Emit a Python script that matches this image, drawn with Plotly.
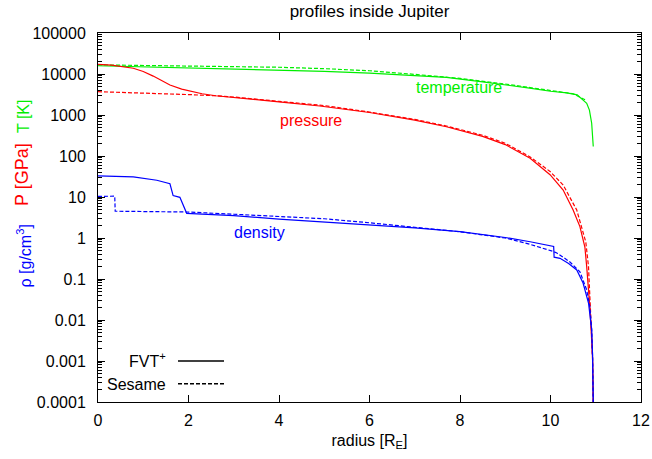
import plotly.graph_objects as go

# ---------------- data ----------------
r_T_fvt = [0, 1, 2, 3, 4, 5, 6, 7, 7.7, 8.5, 9, 9.5, 10, 10.36, 10.59, 10.69, 10.8, 10.86, 10.91, 10.945]
T_fvt = [15900, 15000, 14200, 13300, 12400, 11600, 10500, 9300, 8300, 6400, 5500, 4600, 3800, 3450, 3100, 2500, 1930, 1320, 630, 170]

r_T_ses = [0, 1, 2, 3, 4, 5, 6, 7, 8, 9, 10, 10.5, 10.78]
T_ses = [16700, 16300, 15800, 15200, 14600, 13500, 12000, 9800, 7800, 5700, 3900, 3300, 2300]

r_P_fvt = [0, 0.3, 0.78, 1.0, 1.22, 1.4, 1.59, 1.85, 2.0, 2.3, 2.6, 3, 4, 4.9, 6, 7, 7.7, 8.5, 9, 9.55, 9.99,
           10.28, 10.5, 10.65, 10.76, 10.8, 10.84, 10.87, 10.9, 10.93, 10.945]
P_fvt = [17200, 16500, 13800, 11500, 8900, 7000, 5400, 4270, 3900, 3300, 2950, 2700, 2100, 1660, 1150, 750, 517, 300, 190, 88, 35,
         14.8, 4.8, 1.9, 0.6, 0.2, 0.06, 0.02, 0.005, 0.0012, 0.0001]

r_P_ses = [0, 1, 2, 2.6, 3, 4, 5, 6, 7, 7.7, 8.5, 9, 9.55, 9.99, 10.28, 10.58, 10.78, 10.84, 10.88, 10.91, 10.93, 10.945]
P_ses = [3700, 3450, 3150, 2950, 2750, 2150, 1700, 1180, 780, 540, 320, 205, 95, 42, 19.6, 4.8, 0.8, 0.2, 0.03, 0.004, 0.001, 0.0001]

r_rho_fvt = [0, 0.5, 0.78, 1.3, 1.59, 1.66, 1.81, 1.96, 3, 4, 4.9, 6, 7, 8, 9, 9.55, 10.07, 10.08, 10.21, 10.4,
             10.58, 10.72, 10.84, 10.91, 10.93, 10.945]
rho_fvt = [32.6, 31.8, 31.0, 25.6, 21, 10.8, 9.8, 4.0, 3.5, 2.9, 2.5, 2.1, 1.76, 1.43, 1.03, 0.81, 0.62, 0.34, 0.32, 0.24,
           0.166, 0.08, 0.026, 0.0058, 0.0013, 0.0001]

r_rho_ses = [0, 0.2, 0.37, 0.38, 1, 2, 3, 4, 5, 6, 7, 7.7, 8, 9, 9.55, 10.06, 10.14, 10.28, 10.43, 10.65, 10.8,
             10.87, 10.91, 10.93, 10.945]
rho_ses = [10.3, 10.5, 10.5, 4.5, 4.45, 4.3, 3.8, 3.35, 2.95, 2.35, 1.85, 1.55, 1.42, 1.0, 0.7, 0.47, 0.43, 0.34, 0.26,
           0.15, 0.054, 0.021, 0.006, 0.0013, 0.0001]

y_tickvals = [1e-4, 1e-3, 1e-2, 1e-1, 1, 10, 100, 1000, 10000, 100000]
y_ticktext = ["0.0001", "0.001", "0.01", "0.1", "1", "10", "100", "1000", "10000", "100000"]
x_tickvals = [0, 2, 4, 6, 8, 10, 12]

# ---------------- style ----------------
GREEN = "#00ee00"
RED = "#ff0000"
BLUE = "#0000ff"
FONT = "Liberation Sans, Arial, sans-serif"
FS = 16

W, H = 652, 459
ML, MR, MT, MB = 98, 11, 33, 57
PW, PH = W - ML - MR, H - MT - MB


# helpers converting pixel positions to paper fractions
def px(xp):
    return (xp - ML) / PW


def py(yp):
    return (H - MB - yp) / PH


fig = go.Figure()


def add(r, v, color, dash):
    fig.add_trace(go.Scatter(x=r, y=v, mode="lines",
                             line=dict(color=color, width=1.2, dash=dash),
                             showlegend=False, hoverinfo="skip"))


DASH = "4px,2px"
add(r_T_ses, T_ses, GREEN, DASH)
add(r_T_fvt, T_fvt, GREEN, "solid")
add(r_P_ses, P_ses, RED, DASH)
add(r_P_fvt, P_fvt, RED, "solid")
add(r_rho_ses, rho_ses, BLUE, DASH)
add(r_rho_fvt, rho_fvt, BLUE, "solid")

annotations = [
    dict(text="temperature", x=7.98, y=3.683, xref="x", yref="y", showarrow=False,
         font=dict(color=GREEN, size=FS, family=FONT)),
    dict(text="pressure", x=4.70, y=2.854, xref="x", yref="y", showarrow=False,
         font=dict(color=RED, size=FS, family=FONT)),
    dict(text="density", x=3.57, y=0.13, xref="x", yref="y", showarrow=False,
         font=dict(color=BLUE, size=FS, family=FONT)),
    # y-axis titles
    dict(text="T [K]", x=px(23), y=py(116), xref="paper", yref="paper", textangle=-90,
         xanchor="center", yanchor="middle",
         showarrow=False, font=dict(color=GREEN, size=FS, family=FONT)),
    dict(text="P [GPa]", x=px(22), y=py(175), xref="paper", yref="paper", textangle=-90,
         xanchor="center", yanchor="middle",
         showarrow=False, font=dict(color=RED, size=18, family=FONT)),
    dict(text="ρ [g/cm<sup>3</sup>]", x=px(24), y=py(256.5), xref="paper", yref="paper", textangle=-90,
         xanchor="center", yanchor="middle",
         showarrow=False, font=dict(color=BLUE, size=FS, family=FONT)),
    # legend
    dict(text="FVT<sup>+</sup>", x=px(168), y=py(360), xref="paper", yref="paper", xanchor="right",
         yanchor="middle", showarrow=False, font=dict(color="black", size=FS, family=FONT)),
    dict(text="Sesame", x=px(168), y=py(384), xref="paper", yref="paper", xanchor="right",
         yanchor="middle", showarrow=False, font=dict(color="black", size=FS, family=FONT)),
]

shapes = [
    dict(type="line", xref="paper", yref="paper", x0=px(178), x1=px(224), y0=py(361), y1=py(361),
         line=dict(color="black", width=1.5)),
    dict(type="line", xref="paper", yref="paper", x0=px(178), x1=px(224), y0=py(383.7), y1=py(383.7),
         line=dict(color="black", width=1.5, dash=DASH)),
]

fig.update_layout(
    width=W, height=H,
    margin=dict(l=ML, r=MR, t=MT, b=MB, pad=0, autoexpand=False),
    paper_bgcolor="white", plot_bgcolor="white",
    font=dict(family=FONT, size=FS, color="black"),
    title=dict(text="profiles inside Jupiter", x=0.5, xref="paper", xanchor="center",
               y=(H - 11) / H, yref="container", yanchor="middle",
               font=dict(size=17, family=FONT, color="black"), automargin=False),
    annotations=annotations,
    shapes=shapes,
    showlegend=False,
)

fig.update_xaxes(
    range=[0, 12], tickvals=x_tickvals, ticktext=[str(v) for v in x_tickvals],
    showgrid=False, zeroline=False, showline=True, linecolor="black", linewidth=1,
    mirror="ticks", ticks="inside", ticklen=7, tickcolor="black", tickwidth=1,
    ticklabelstandoff=4, automargin=False,
    title=dict(text="radius [R<sub>E</sub>]", standoff=6, font=dict(size=FS, family=FONT)),
)
fig.update_yaxes(
    type="log", range=[-4, 5], tickvals=y_tickvals, ticktext=y_ticktext,
    showgrid=False, zeroline=False, showline=True, linecolor="black", linewidth=1,
    mirror="ticks", ticks="inside", ticklen=7, tickcolor="black", tickwidth=1,
    ticklabelstandoff=8, automargin=False,
    minor=dict(ticks="inside", ticklen=4, tickcolor="black", tickwidth=1, dtick="D1", showgrid=False),
)

# remove the default 8px page margin so the figure fills the window exactly
fig.write_html("out.html",
               config={"displayModeBar": False},
               post_script="document.body.style.margin='0';document.documentElement.style.overflow='hidden';")
